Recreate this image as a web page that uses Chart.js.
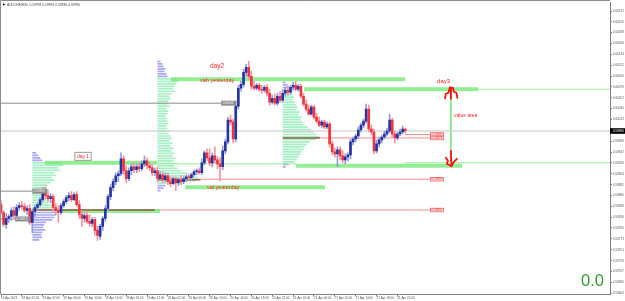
<!DOCTYPE html>
<html lang="fr">
<head>
<meta charset="utf-8">
<title>AUDCHF M30</title>
<script src="https://cdn.jsdelivr.net/npm/chart.js@4.4.1/dist/chart.umd.min.js"></script>
<style>
  html, body { margin: 0; padding: 0; background: #ffffff; overflow: hidden; }
  canvas { display: block; }
</style>
</head>
<body>
<canvas id="marketChart" width="625" height="301"></canvas>
<script>
// marketChart - AUDCHF M30 avec profils de marche journaliers

// --- Donnees ---
const symbolName = 'AUDCHF,M30';
const counterText = '0.0';
const timeLabels = ['18 Apr 2023', '18 Apr 22:00', '19 Apr 02:00', '19 Apr 06:00', '19 Apr 10:00',
    '19 Apr 14:00', '19 Apr 18:00', '19 Apr 22:00', '20 Apr 02:00', '20 Apr 06:00', '20 Apr 10:00',
    '20 Apr 14:00', '20 Apr 18:00', '20 Apr 22:00', '21 Apr 02:00', '21 Apr 06:00', '21 Apr 10:00',
    '21 Apr 14:00', '21 Apr 18:00', '21 Apr 22:00'];
const labelEvery = 8; // une etiquette toutes les 8 bougies (4 heures)

const openPrices = [
    0.59842, 0.59826, 0.59802, 0.59814, 0.59818, 0.59830, 0.59820, 0.59836, 0.59840, 0.59838,
    0.59830, 0.59834, 0.59806, 0.59828, 0.59836, 0.59842, 0.59852, 0.59870, 0.59860, 0.59854,
    0.59858, 0.59836, 0.59830, 0.59826, 0.59840, 0.59848, 0.59856, 0.59860, 0.59852, 0.59862,
    0.59842, 0.59822, 0.59814, 0.59820, 0.59808, 0.59804, 0.59812, 0.59790, 0.59778, 0.59798,
    0.59814, 0.59834, 0.59858, 0.59876, 0.59888, 0.59900, 0.59904, 0.59934, 0.59910, 0.59894,
    0.59910, 0.59918, 0.59912, 0.59918, 0.59914, 0.59924, 0.59930, 0.59920, 0.59916, 0.59906,
    0.59910, 0.59894, 0.59902, 0.59892, 0.59900, 0.59888, 0.59884, 0.59894, 0.59886, 0.59892,
    0.59888, 0.59894, 0.59898, 0.59896, 0.59902, 0.59908, 0.59910, 0.59906, 0.59926, 0.59946,
    0.59936, 0.59926, 0.59940, 0.59932, 0.59924, 0.59918, 0.59950, 0.59968, 0.60012, 0.60008,
    0.59974, 0.60040, 0.60076, 0.60084, 0.60108, 0.60118, 0.60100, 0.60080, 0.60076, 0.60082,
    0.60074, 0.60072, 0.60078, 0.60066, 0.60048, 0.60056, 0.60046, 0.60060, 0.60052, 0.60066,
    0.60072, 0.60068, 0.60078, 0.60082, 0.60074, 0.60080, 0.60060, 0.60044, 0.60034, 0.60024,
    0.60038, 0.60018, 0.60010, 0.60002, 0.60008, 0.59998, 0.60004, 0.59964, 0.59948, 0.59944,
    0.59952, 0.59940, 0.59932, 0.59938, 0.59942, 0.59968, 0.59974, 0.59980, 0.59992, 0.60002,
    0.60010, 0.60034, 0.59994, 0.59988, 0.59950, 0.59964, 0.59972, 0.59978, 0.59984, 0.59990,
    0.60012, 0.59984, 0.59976, 0.59984, 0.59988, 0.59994
];
const highPrices = [
    0.59850, 0.59830, 0.59824, 0.59822, 0.59836, 0.59838, 0.59842, 0.59846, 0.59848, 0.59844,
    0.59840, 0.59842, 0.59834, 0.59840, 0.59846, 0.59856, 0.59876, 0.59878, 0.59868, 0.59864,
    0.59862, 0.59844, 0.59840, 0.59844, 0.59852, 0.59860, 0.59866, 0.59868, 0.59866, 0.59868,
    0.59850, 0.59830, 0.59826, 0.59828, 0.59822, 0.59816, 0.59816, 0.59798, 0.59802, 0.59818,
    0.59840, 0.59862, 0.59882, 0.59894, 0.59906, 0.59910, 0.59946, 0.59940, 0.59920, 0.59916,
    0.59924, 0.59926, 0.59924, 0.59926, 0.59930, 0.59940, 0.59936, 0.59926, 0.59922, 0.59916,
    0.59918, 0.59908, 0.59908, 0.59906, 0.59906, 0.59898, 0.59898, 0.59898, 0.59896, 0.59900,
    0.59898, 0.59902, 0.59904, 0.59906, 0.59912, 0.59914, 0.59916, 0.59934, 0.59950, 0.59954,
    0.59954, 0.59946, 0.59958, 0.59938, 0.59936, 0.59960, 0.59974, 0.60018, 0.60022, 0.60014,
    0.60050, 0.60082, 0.60090, 0.60114, 0.60124, 0.60130, 0.60110, 0.60090, 0.60086, 0.60086,
    0.60082, 0.60082, 0.60084, 0.60074, 0.60062, 0.60064, 0.60066, 0.60070, 0.60074, 0.60078,
    0.60080, 0.60082, 0.60088, 0.60090, 0.60084, 0.60084, 0.60066, 0.60052, 0.60042, 0.60042,
    0.60042, 0.60026, 0.60018, 0.60012, 0.60012, 0.60008, 0.60008, 0.59970, 0.59956, 0.59958,
    0.59958, 0.59950, 0.59944, 0.59946, 0.59974, 0.59978, 0.59984, 0.59998, 0.60006, 0.60014,
    0.60044, 0.60042, 0.60002, 0.59994, 0.59972, 0.59978, 0.59982, 0.59990, 0.59996, 0.60024,
    0.60016, 0.59990, 0.59988, 0.59994, 0.60000, 0.59996
];
const lowPrices = [
    0.59822, 0.59798, 0.59794, 0.59806, 0.59810, 0.59814, 0.59816, 0.59830, 0.59832, 0.59826,
    0.59822, 0.59802, 0.59786, 0.59818, 0.59830, 0.59838, 0.59848, 0.59854, 0.59848, 0.59846,
    0.59828, 0.59822, 0.59806, 0.59822, 0.59836, 0.59844, 0.59850, 0.59848, 0.59850, 0.59838,
    0.59814, 0.59798, 0.59806, 0.59804, 0.59798, 0.59798, 0.59780, 0.59770, 0.59772, 0.59790,
    0.59808, 0.59830, 0.59852, 0.59870, 0.59882, 0.59888, 0.59900, 0.59902, 0.59886, 0.59890,
    0.59902, 0.59906, 0.59906, 0.59908, 0.59910, 0.59918, 0.59914, 0.59910, 0.59900, 0.59900,
    0.59888, 0.59890, 0.59886, 0.59888, 0.59882, 0.59878, 0.59882, 0.59870, 0.59880, 0.59882,
    0.59884, 0.59888, 0.59892, 0.59892, 0.59898, 0.59902, 0.59904, 0.59902, 0.59922, 0.59930,
    0.59920, 0.59918, 0.59926, 0.59914, 0.59890, 0.59912, 0.59944, 0.59964, 0.60002, 0.59966,
    0.59968, 0.60034, 0.60070, 0.60078, 0.60100, 0.60094, 0.60074, 0.60072, 0.60072, 0.60070,
    0.60066, 0.60068, 0.60060, 0.60042, 0.60044, 0.60042, 0.60042, 0.60048, 0.60048, 0.60060,
    0.60062, 0.60064, 0.60072, 0.60070, 0.60070, 0.60056, 0.60040, 0.60030, 0.60022, 0.60022,
    0.60014, 0.60006, 0.59998, 0.59996, 0.59994, 0.59994, 0.59958, 0.59942, 0.59938, 0.59918,
    0.59932, 0.59926, 0.59924, 0.59930, 0.59934, 0.59962, 0.59968, 0.59974, 0.59988, 0.59996,
    0.60006, 0.59988, 0.59982, 0.59944, 0.59946, 0.59958, 0.59966, 0.59974, 0.59980, 0.59986,
    0.59978, 0.59966, 0.59972, 0.59980, 0.59984, 0.59986
];
const closePrices = [
    0.59826, 0.59802, 0.59814, 0.59818, 0.59830, 0.59820, 0.59836, 0.59840, 0.59838, 0.59830,
    0.59834, 0.59806, 0.59828, 0.59836, 0.59842, 0.59852, 0.59870, 0.59860, 0.59854, 0.59858,
    0.59836, 0.59830, 0.59826, 0.59840, 0.59848, 0.59856, 0.59860, 0.59852, 0.59862, 0.59842,
    0.59822, 0.59814, 0.59820, 0.59808, 0.59804, 0.59812, 0.59790, 0.59780, 0.59798, 0.59814,
    0.59834, 0.59858, 0.59876, 0.59888, 0.59900, 0.59904, 0.59934, 0.59910, 0.59894, 0.59910,
    0.59918, 0.59912, 0.59918, 0.59914, 0.59924, 0.59930, 0.59920, 0.59916, 0.59906, 0.59910,
    0.59894, 0.59902, 0.59892, 0.59900, 0.59888, 0.59884, 0.59894, 0.59886, 0.59892, 0.59888,
    0.59894, 0.59898, 0.59896, 0.59902, 0.59908, 0.59910, 0.59906, 0.59926, 0.59946, 0.59936,
    0.59926, 0.59940, 0.59932, 0.59924, 0.59918, 0.59950, 0.59968, 0.60012, 0.60008, 0.59974,
    0.60040, 0.60076, 0.60084, 0.60108, 0.60118, 0.60100, 0.60080, 0.60076, 0.60082, 0.60074,
    0.60072, 0.60078, 0.60066, 0.60048, 0.60056, 0.60046, 0.60060, 0.60052, 0.60066, 0.60072,
    0.60068, 0.60078, 0.60082, 0.60074, 0.60080, 0.60060, 0.60044, 0.60034, 0.60024, 0.60038,
    0.60018, 0.60010, 0.60002, 0.60008, 0.59998, 0.60004, 0.59964, 0.59948, 0.59944, 0.59952,
    0.59940, 0.59932, 0.59938, 0.59942, 0.59968, 0.59974, 0.59980, 0.59992, 0.60002, 0.60010,
    0.60034, 0.59994, 0.59988, 0.59950, 0.59964, 0.59972, 0.59978, 0.59984, 0.59990, 0.60012,
    0.59984, 0.59976, 0.59984, 0.59988, 0.59994, 0.59990
];

const yTickValues = [0.60231, 0.60210, 0.60188, 0.60166, 0.60144, 0.60122, 0.60100, 0.60079,
    0.60057, 0.60035, 0.60013, 0.59969, 0.59947, 0.59926, 0.59904, 0.59882, 0.59860, 0.59838,
    0.59816, 0.59795, 0.59773, 0.59751, 0.59729, 0.59707, 0.59685, 0.59664];

// Profils de marche : une ligne = 0.00005, lues du haut vers le bas
const profileStep = 0.00005;
const profileStart = [12, 60, 108];           // premiere bougie de chaque journee
const profileTop = [0.59946, 0.60130, 0.60088];
const profileVah = [0.59926, 0.60095, 0.60073];
const profileVal = [0.59831, 0.59885, 0.59928];
const profilePoc = [0.59831, 0.59892, 0.59976];
const profilePocEnd = [59, 76.5, 122.4];
const profileDay1 = [4, 6, 8, 10, 30, 31, 26, 28, 22, 24, 20, 22, 18, 15, 14, 17, 13, 15, 12, 14,
    16, 19, 22, 26, 25, 24, 22, 20, 14, 12, 11, 13, 10, 9, 10, 7];
const profileDay2 = [3, 5, 6, 8, 7, 9, 10, 20, 21, 19, 17, 16, 18, 14, 12, 13, 11, 10, 12, 9,
    11, 10, 8, 9, 10, 11, 9, 10, 12, 11, 13, 14, 12, 15, 13, 16, 14, 17, 15, 18,
    16, 19, 17, 20, 24, 30, 36, 41, 38, 26, 8, 6, 3];
const profileDay3 = [3, 5, 6, 8, 10, 9, 11, 10, 12, 13, 15, 14, 17, 16, 19, 18, 20, 22, 25, 28,
    31, 34, 37, 33, 27, 24, 22, 21, 19, 18, 16, 14, 12, 6, 3];

// Niveaux horizontaux (debut / fin en numero de bougie)
const levelPrice = [0.59990, 0.60046, 0.59869, 0.59813, 0.60094, 0.60074, 0.60074, 0.59926, 0.59924,
    0.59920, 0.59926, 0.59829, 0.59877, 0.59893, 0.59976, 0.59983, 0.59831];
const levelFrom = [0, 0, 0, 0, 65.2, 116.2, 182.9, 16.9, 59.8, 113.1, 154.9, 22.6, 70.6, 76.5, 122.4, 154.9, 59];
const levelTo = [233.5, 84.4, 12, 5.4, 154.9, 182.9, 233.5, 59.8, 113.1, 176.8, 233.5, 61, 124.2, 164.5, 164.5, 164.5, 164.5];
const levelKind = ['bid', 'mark', 'mark', 'mark', 'zone', 'zone', 'ext', 'zone', 'ext', 'zone', 'ext',
    'zone', 'zone', 'pocExt', 'pocExt', 'pocExt', 'pocExt'];

const greyTagPrice = [0.60046, 0.59869, 0.59813];
const greyTagAt = [84.4, 12, 5.4];
const redTagPrice = [0.59983, 0.59976, 0.59893, 0.59831];
const redTagAt = 164.5;
const vaArrowAt = 172.5;

const notes = [
    { text: 'day2', at: 80.1, price: 0.60120, size: 6.5 },
    { text: 'vah yesterday', at: 76.3, price: 0.60092, size: 5.5 },
    { text: 'day 1', at: 29.1, price: 0.59939, size: 5, boxed: true },
    { text: 'val yesterday', at: 79, price: 0.59876, size: 5.5 },
    { text: 'day3', at: 167.2, price: 0.60090, size: 6 },
    { text: 'value area', at: 173.7, price: 0.60020, size: 5 }
];

// --- Styles ---
const levelStyle = {
    bid: ['#c6c6c6', 1],
    mark: ['#8a8a8a', 1],
    zone: ['rgba(120, 232, 120, 0.8)', 4],
    ext: ['#9ceb9c', 1],
    pocExt: ['#f38d8d', 1]
};
const profileUnit = 0.383; // largeur d'une unite de volume, en bougies

function segment(data, color, width, order) {
    return {
        type: 'line', data: data, borderColor: color, borderWidth: width,
        pointRadius: 0, pointHoverRadius: 0, fill: false, tension: 0, spanGaps: false, order: order
    };
}

const profileCounts = [profileDay1, profileDay2, profileDay3];

function profileRows(d, insideVa) {
    const pts = [];
    profileCounts[d].forEach(function (n, k) {
        const price = profileTop[d] - k * profileStep;
        const inside = price <= profileVah[d] + 1e-8 && price >= profileVal[d] - 1e-8;
        if (inside !== insideVa) return;
        pts.push({ x: profileStart[d], y: price });
        pts.push({ x: profileStart[d] + n * profileUnit, y: price });
        pts.push({ x: profileStart[d], y: null });
    });
    return pts;
}

const datasets = [];

// bougies
const bullish = closePrices.map((c, i) => c >= openPrices[i]);
datasets.push({
    type: 'bar',
    data: openPrices.map((o, i) => ({ x: i, y: [o, closePrices[i]] })),
    backgroundColor: bullish.map(b => b ? '#2434a2' : '#ef3340'),
    barThickness: 2, grouped: false, minBarLength: 1, borderWidth: 0, order: 0
});
datasets.push({
    type: 'bar',
    data: openPrices.map((o, i) => ({ x: i, y: [lowPrices[i], highPrices[i]] })),
    backgroundColor: bullish.map(b => b ? '#959cdc' : '#f3959c'),
    barThickness: 1, grouped: false, borderWidth: 0, order: 1
});

// POC journaliers
profilePoc.forEach(function (p, d) {
    datasets.push(segment([{ x: profileStart[d], y: p }, { x: profilePocEnd[d], y: p }], '#9a5646', 1.5, 2));
});

// fleche de la value area
datasets.push(segment([{ x: vaArrowAt, y: profileVah[2] }, { x: vaArrowAt, y: profileVal[2] }], '#8fe88f', 2, 2));

// niveaux
levelPrice.forEach(function (p, i) {
    const st = levelStyle[levelKind[i]];
    datasets.push(segment([{ x: levelFrom[i], y: p }, { x: levelTo[i], y: p }], st[0], st[1], 3));
});

// profils
for (let d = 0; d < 3; d++) {
    datasets.push(segment(profileRows(d, true), '#a6efc4', 1.7, 4));
    datasets.push(segment(profileRows(d, false), '#a9a9ee', 1.7, 4));
}

// --- Dessins additionnels (titre, etiquettes, notes) ---
const overlayPlugin = {
    id: 'overlay',
    afterDraw(chart) {
        const ctx = chart.ctx;
        const area = chart.chartArea;
        const px = v => chart.scales.x.getPixelForValue(v);
        const py = v => chart.scales.y.getPixelForValue(v);
        const font = size => size + 'px "Liberation Sans", Arial, sans-serif';
        const last = closePrices.length - 1;

        ctx.save();

        // cadre haut et gauche
        ctx.strokeStyle = '#8c8c8c';
        ctx.lineWidth = 1;
        ctx.beginPath();
        ctx.moveTo(0.5, area.bottom);
        ctx.lineTo(0.5, 0.5);
        ctx.lineTo(area.right, 0.5);
        ctx.stroke();

        // titre
        ctx.fillStyle = '#222';
        ctx.beginPath();
        ctx.moveTo(3, 3);
        ctx.lineTo(5.5, 4.4);
        ctx.lineTo(3, 5.8);
        ctx.fill();
        ctx.font = font(3.3);
        ctx.textAlign = 'left';
        ctx.textBaseline = 'middle';
        ctx.fillStyle = '#444';
        const ohlc = [openPrices[last], highPrices[last], lowPrices[last], closePrices[last]];
        ctx.fillText(symbolName + '  ' + ohlc.map(v => v.toFixed(5)).join(' '), 7, 4.6);

        // etiquettes grises
        ctx.font = font(3);
        greyTagPrice.forEach(function (p, i) {
            const x0 = px(greyTagAt[i]), y0 = py(p);
            ctx.fillStyle = '#8e8e8e';
            ctx.fillRect(x0, y0 - 2.5, 15, 5);
            ctx.fillStyle = '#f2f2f2';
            ctx.fillText(p.toFixed(5), x0 + 1.5, y0 + 0.2);
        });

        // etiquettes rouges
        redTagPrice.forEach(function (p) {
            const x0 = px(redTagAt), y0 = py(p);
            ctx.fillStyle = '#ffe0e0';
            ctx.fillRect(x0, y0 - 2, 14, 4);
            ctx.strokeStyle = '#f06a6a';
            ctx.lineWidth = 0.8;
            ctx.strokeRect(x0 + 0.4, y0 - 1.8, 13.2, 3.6);
            ctx.fillStyle = '#e43a3a';
            ctx.fillText(p.toFixed(5), x0 + 1.5, y0 + 0.2);
        });

        // notes
        notes.forEach(function (n) {
            const x0 = px(n.at), y0 = py(n.price);
            ctx.font = font(n.size);
            if (n.boxed) {
                const w = ctx.measureText(n.text).width;
                ctx.strokeStyle = '#9a9a9a';
                ctx.lineWidth = 1;
                ctx.strokeRect(x0 - 2, y0 - n.size / 2 - 1.5, w + 4, n.size + 3);
            }
            ctx.fillStyle = '#ff2424';
            ctx.fillText(n.text, x0, y0);
        });

        // fleches rouges de la value area
        const ax = px(vaArrowAt);
        const yTop = py(profileVah[2]);
        const yBot = py(profileVal[2]);
        ctx.strokeStyle = '#ff1010';
        ctx.lineWidth = 1.8;
        ctx.lineJoin = 'round';
        ctx.lineCap = 'round';
        ctx.beginPath();
        ctx.moveTo(ax - 6, yTop + 8.5);
        ctx.lineTo(ax - 5, yTop + 4);
        ctx.lineTo(ax - 2.5, yTop + 3);
        ctx.lineTo(ax - 1, yTop - 2.5);
        ctx.lineTo(ax + 2, yTop - 2);
        ctx.lineTo(ax + 3, yTop + 2);
        ctx.lineTo(ax + 5.5, yTop + 3);
        ctx.lineTo(ax + 6.5, yTop + 8);
        ctx.moveTo(ax, yTop - 2);
        ctx.lineTo(ax, yTop + 9);
        ctx.stroke();
        ctx.beginPath();
        ctx.moveTo(ax, yBot - 11);
        ctx.lineTo(ax + 0.5, yBot + 4.5);
        ctx.moveTo(ax - 5, yBot - 4);
        ctx.lineTo(ax - 3, yBot - 1);
        ctx.lineTo(ax - 4, yBot + 2);
        ctx.lineTo(ax + 0.5, yBot + 4.5);
        ctx.lineTo(ax + 3, yBot);
        ctx.lineTo(ax + 6, yBot - 3);
        ctx.stroke();

        // compteur vert
        ctx.font = font(16.5);
        ctx.fillStyle = '#2f9e2f';
        ctx.textAlign = 'right';
        ctx.textBaseline = 'alphabetic';
        ctx.fillText(counterText, area.right - 6, area.bottom - 9);

        // prix courant sur l'axe
        const yc = py(closePrices[last]);
        ctx.fillStyle = '#000';
        ctx.fillRect(area.right, yc - 2.8, 15, 5.6);
        ctx.fillStyle = '#fff';
        ctx.font = font(3);
        ctx.textAlign = 'left';
        ctx.textBaseline = 'middle';
        ctx.fillText(closePrices[last].toFixed(5), area.right + 3, yc);

        ctx.restore();
    }
};

const axisFont = { family: '"Liberation Sans", Arial, sans-serif', size: 3 };

new Chart(document.getElementById('marketChart'), {
    type: 'bar',
    data: { datasets: datasets },
    plugins: [overlayPlugin],
    options: {
        responsive: false,
        animation: false,
        events: [],
        layout: { padding: { left: 1, top: 1, right: 0, bottom: 0 } },
        plugins: {
            legend: { display: false },
            tooltip: { enabled: false }
        },
        scales: {
            x: {
                type: 'linear',
                min: 0,
                max: 233.5,
                offset: false,
                grid: { display: true, drawOnChartArea: false, tickLength: 2, color: '#808080', offset: false },
                border: { display: true, color: '#808080' },
                afterBuildTicks: function (s) { s.ticks = timeLabels.map((_, k) => ({ value: k * labelEvery })); },
                afterFit: function (s) { s.height = 6.5; },
                ticks: {
                    autoSkip: false, maxRotation: 0, minRotation: 0, align: 'start', padding: 0,
                    font: axisFont, color: '#555',
                    callback: v => timeLabels[Math.round(v / labelEvery)]
                }
            },
            y: {
                type: 'linear',
                position: 'right',
                min: 0.59661,
                max: 0.60248,
                grid: { display: true, drawOnChartArea: false, tickLength: 2, color: '#808080' },
                border: { display: true, color: '#808080' },
                afterBuildTicks: function (s) { s.ticks = yTickValues.map(v => ({ value: v })); },
                afterFit: function (s) { s.width = 15; },
                ticks: { padding: 1, font: axisFont, color: '#555', callback: v => v.toFixed(5) }
            }
        }
    }
});
</script>
</body>
</html>
